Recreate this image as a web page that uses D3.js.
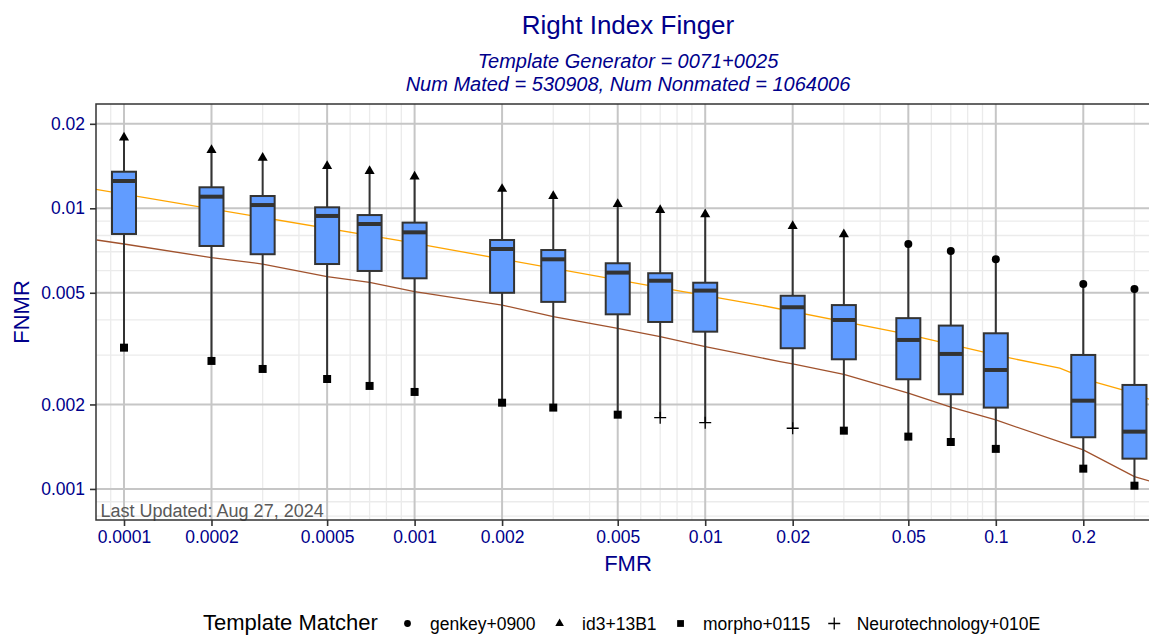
<!DOCTYPE html>
<html>
<head>
<meta charset="utf-8">
<script src="https://cdn.jsdelivr.net/npm/d3@7"></script>
<style>
body { margin: 0; background: #fff; }
svg { display: block; font-family: "Liberation Sans", Arial, sans-serif; }
</style>
</head>
<body>
<div id="chart"></div>
<script>
var w = 1149,
    h = 635,
    pLeft = 96,
    pRight = 1160,
    pTop = 104,
    pBottom = 520;

// box positions (FMR) and FNMR summaries
var fmr = [0.0001, 0.0002, 0.0003, 0.0005, 0.0007, 0.001, 0.002, 0.003, 0.005,
           0.007, 0.01, 0.02, 0.03, 0.05, 0.07, 0.1, 0.2, 0.3];
var fnmrMax = [0.01785, 0.01613, 0.01514, 0.01415, 0.01358, 0.01296, 0.01172, 0.01106, 0.01036,
               0.00986, 0.00952, 0.00865, 0.00808, 0.00746, 0.00705, 0.00658, 0.00537, 0.00516];
var fnmrQ3 = [0.0135, 0.01188, 0.01106, 0.01008, 0.00946, 0.00889, 0.00771, 0.0071, 0.00637,
              0.00587, 0.00543, 0.00488, 0.00452, 0.00406, 0.00382, 0.003586, 0.003002, 0.002347];
var fnmrMedian = [0.01251, 0.011, 0.01027, 0.00939, 0.00879, 0.00821, 0.00716, 0.00658, 0.0059,
                  0.00552, 0.00509, 0.00444, 0.004, 0.003395, 0.003027, 0.002654, 0.002063, 0.0016];
var fnmrQ1 = [0.0081, 0.00734, 0.00686, 0.00633, 0.00598, 0.00563, 0.005, 0.00464, 0.00419,
              0.003935, 0.003634, 0.003172, 0.002897, 0.002459, 0.002175, 0.001949, 0.001528, 0.001282];
var fnmrMin = [0.003187, 0.002858, 0.002676, 0.002465, 0.002328, 0.002216, 0.002029, 0.001949, 0.001839,
               0.001795, 0.001722, 0.001645, 0.001613, 0.001536, 0.00147, 0.001389, 0.001181, 0.001027];
var maxMatcher = ["id3+13B1", "id3+13B1", "id3+13B1", "id3+13B1", "id3+13B1", "id3+13B1", "id3+13B1",
                  "id3+13B1", "id3+13B1", "id3+13B1", "id3+13B1", "id3+13B1", "id3+13B1",
                  "genkey+0900", "genkey+0900", "genkey+0900", "genkey+0900", "genkey+0900"];
var minMatcher = ["morpho+0115", "morpho+0115", "morpho+0115", "morpho+0115", "morpho+0115",
                  "morpho+0115", "morpho+0115", "morpho+0115", "morpho+0115",
                  "Neurotechnology+010E", "Neurotechnology+010E", "Neurotechnology+010E",
                  "morpho+0115", "morpho+0115", "morpho+0115", "morpho+0115", "morpho+0115", "morpho+0115"];

// reference curves
var orangeFmr = [8.0e-5, 0.00089, 0.00776, 0.0154, 0.048, 0.1034, 0.166, 0.2165, 0.273, 0.367];
var orangeFnmr = [0.01169, 0.00767, 0.00512, 0.00452, 0.003586, 0.002977, 0.002692, 0.002411, 0.002253, 0.002025];
var brownFmr = [8.06e-5, 0.0001, 0.0002, 0.0003, 0.0005, 0.0007, 0.001, 0.002, 0.003, 0.005, 0.007,
                0.01, 0.0181, 0.02, 0.03, 0.05, 0.07, 0.1, 0.2, 0.3, 0.367];
var brownFnmr = [0.00771, 0.00746, 0.00667, 0.00633, 0.00571, 0.00545, 0.00505, 0.00452, 0.00411, 0.003736,
                 0.003487, 0.003213, 0.002842, 0.002788, 0.002562, 0.002193, 0.001955, 0.001761,
                 0.001377, 0.001106, 0.001041];

var xTicks = [0.0001, 0.0002, 0.0005, 0.001, 0.002, 0.005, 0.01, 0.02, 0.05, 0.1, 0.2],
    yTicks = [0.001, 0.002, 0.005, 0.01, 0.02],
    minorMult = [3, 4, 6, 7, 8, 9];

var matchers = ["genkey+0900", "id3+13B1", "morpho+0115", "Neurotechnology+010E"],
    shapes = ["circle", "triangle", "square", "plus"];

var txtColor = "#00008B";

var x = d3.scaleLog().domain([8.01e-5, 0.3673]).range([pLeft, pRight]),
    y = d3.scaleLog().domain([0.000775, 0.02353]).range([pBottom, pTop]);

function minorBreaks(sc) {
    var d = sc.domain(), out = [];
    for (var k = -6; k <= 0; k++) {
        minorMult.forEach(function (m) {
            var v = m * Math.pow(10, k);
            if (v >= d[0] && v <= d[1]) out.push(v);
        });
    }
    return out;
}

function markerPath(shape, scale) {
    if (shape === "plus") {
        var s = 6 * scale;
        return "M" + (-s) + ",0H" + s + "M0," + (-s) + "V" + s;
    }
    var t = {circle: [d3.symbolCircle, 50], triangle: [d3.symbolTriangle, 44], square: [d3.symbolSquare, 64]}[shape];
    return d3.symbol().type(t[0]).size(t[1] * scale * scale)();
}

function shapeOf(name) { return shapes[matchers.indexOf(name)]; }

var svg = d3.select("#chart")
    .append("svg")
    .attr("width", w)
    .attr("height", h);

svg.append("rect").attr("width", w).attr("height", h).attr("fill", "#fff");

svg.append("clipPath").attr("id", "panel")
    .append("rect")
    .attr("x", pLeft).attr("y", pTop)
    .attr("width", pRight - pLeft).attr("height", pBottom - pTop);

var grid = svg.append("g");

// minor grid
grid.selectAll(".xminor").data(minorBreaks(x)).enter().append("line")
    .attr("x1", function (d) { return x(d); }).attr("x2", function (d) { return x(d); })
    .attr("y1", pTop).attr("y2", pBottom)
    .attr("stroke", "#EBEBEB").attr("stroke-width", 1.3);
grid.selectAll(".yminor").data(minorBreaks(y)).enter().append("line")
    .attr("y1", function (d) { return y(d); }).attr("y2", function (d) { return y(d); })
    .attr("x1", pLeft).attr("x2", pRight)
    .attr("stroke", "#EBEBEB").attr("stroke-width", 1.3);

// major grid
grid.selectAll(".xmajor").data(xTicks).enter().append("line")
    .attr("x1", function (d) { return x(d); }).attr("x2", function (d) { return x(d); })
    .attr("y1", pTop).attr("y2", pBottom)
    .attr("stroke", "#C6C6C6").attr("stroke-width", 2);
grid.selectAll(".ymajor").data(yTicks).enter().append("line")
    .attr("y1", function (d) { return y(d); }).attr("y2", function (d) { return y(d); })
    .attr("x1", pLeft).attr("x2", pRight)
    .attr("stroke", "#C6C6C6").attr("stroke-width", 2);

// reference curves
var line = d3.line()
    .x(function (d) { return x(d[0]); })
    .y(function (d) { return y(d[1]); });

svg.append("path")
    .datum(d3.zip(orangeFmr, orangeFnmr))
    .attr("clip-path", "url(#panel)")
    .attr("d", line)
    .attr("fill", "none")
    .attr("stroke", "#FFA500")
    .attr("stroke-width", 1.3);

svg.append("path")
    .datum(d3.zip(brownFmr, brownFnmr))
    .attr("clip-path", "url(#panel)")
    .attr("d", line)
    .attr("fill", "none")
    .attr("stroke", "#A0522D")
    .attr("stroke-width", 1.3);

// boxplots
var boxW = 24;
var boxes = svg.append("g").selectAll("g")
    .data(fmr.map(function (f, i) { return i; }))
    .enter().append("g");

boxes.append("line")
    .attr("x1", function (i) { return x(fmr[i]); })
    .attr("x2", function (i) { return x(fmr[i]); })
    .attr("y1", function (i) { return y(fnmrMax[i]); })
    .attr("y2", function (i) { return y(fnmrMin[i]); })
    .attr("stroke", "#333").attr("stroke-width", 2);

boxes.append("rect")
    .attr("x", function (i) { return x(fmr[i]) - boxW / 2; })
    .attr("y", function (i) { return y(fnmrQ3[i]); })
    .attr("width", boxW)
    .attr("height", function (i) { return y(fnmrQ1[i]) - y(fnmrQ3[i]); })
    .attr("fill", "#619CFF")
    .attr("stroke", "#333").attr("stroke-width", 2);

boxes.append("line")
    .attr("x1", function (i) { return x(fmr[i]) - boxW / 2; })
    .attr("x2", function (i) { return x(fmr[i]) + boxW / 2; })
    .attr("y1", function (i) { return y(fnmrMedian[i]); })
    .attr("y2", function (i) { return y(fnmrMedian[i]); })
    .attr("stroke", "#333").attr("stroke-width", 4);

function addMarkers(vals, who) {
    boxes.append("path")
        .attr("transform", function (i) { return "translate(" + x(fmr[i]) + "," + y(vals[i]) + ")"; })
        .attr("d", function (i) { return markerPath(shapeOf(who[i]), 1); })
        .attr("fill", function (i) { return shapeOf(who[i]) === "plus" ? "none" : "#000"; })
        .attr("stroke", function (i) { return shapeOf(who[i]) === "plus" ? "#000" : "none"; })
        .attr("stroke-width", 1.3);
}
addMarkers(fnmrMax, maxMatcher);
addMarkers(fnmrMin, minMatcher);

svg.append("text")
    .attr("x", 100.5).attr("y", 517)
    .attr("fill", "#595959")
    .style("font-size", "18px")
    .text("Last Updated: Aug 27, 2024");

// panel border
svg.append("rect")
    .attr("x", pLeft).attr("y", pTop)
    .attr("width", pRight - pLeft).attr("height", pBottom - pTop)
    .attr("fill", "none").attr("stroke", "#333").attr("stroke-width", 1.5);

// axes
var xAxis = d3.axisBottom(x).tickValues(xTicks).tickSize(6).tickFormat(d3.format("~g"));
var yAxis = d3.axisLeft(y).tickValues(yTicks).tickSize(6).tickPadding(5).tickFormat(d3.format("~g"));

var gx = svg.append("g").attr("transform", "translate(0," + pBottom + ")").call(xAxis);
gx.select(".domain").remove();
gx.selectAll(".tick line").attr("stroke", "#333").attr("stroke-width", 1.6);
gx.selectAll(".tick text")
    .attr("y", 23).attr("dy", null)
    .attr("fill", txtColor)
    .style("font-size", "17.5px")
    .style("font-family", "Liberation Sans, Arial, sans-serif");

var gy = svg.append("g").attr("transform", "translate(" + pLeft + ",0)").call(yAxis);
gy.select(".domain").remove();
gy.selectAll(".tick line").attr("stroke", "#333").attr("stroke-width", 1.6);
gy.selectAll(".tick text")
    .attr("fill", txtColor)
    .style("font-size", "17.5px")
    .style("font-family", "Liberation Sans, Arial, sans-serif");

// titles
var cx = (pLeft + pRight) / 2;
svg.append("text").attr("x", cx).attr("y", 34).attr("text-anchor", "middle")
    .attr("fill", txtColor).style("font-size", "26px")
    .text("Right Index Finger");
svg.append("text").attr("x", cx).attr("y", 68).attr("text-anchor", "middle")
    .attr("fill", txtColor).style("font-size", "20px").style("font-style", "italic")
    .text("Template Generator = 0071+0025");
svg.append("text").attr("x", cx).attr("y", 91).attr("text-anchor", "middle")
    .attr("fill", txtColor).style("font-size", "20px").style("font-style", "italic")
    .text("Num Mated = 530908, Num Nonmated = 1064006");

svg.append("text").attr("x", cx).attr("y", 571).attr("text-anchor", "middle")
    .attr("fill", txtColor).style("font-size", "22px")
    .text("FMR");
svg.append("text")
    .attr("transform", "translate(28.5," + (pTop + pBottom) / 2 + ") rotate(-90)")
    .attr("text-anchor", "middle")
    .attr("fill", txtColor).style("font-size", "22px")
    .text("FNMR");

// legend
var leg = svg.append("g");
leg.append("text").attr("x", 203).attr("y", 630)
    .attr("fill", "#000").style("font-size", "22px")
    .text("Template Matcher");

var lx = 407.5;
matchers.forEach(function (m, i) {
    leg.append("path")
        .attr("transform", "translate(" + lx + ",623.5)")
        .attr("d", markerPath(shapes[i], shapes[i] === "plus" ? 1 : 0.85))
        .attr("fill", shapes[i] === "plus" ? "none" : "#000")
        .attr("stroke", shapes[i] === "plus" ? "#000" : "none")
        .attr("stroke-width", 1.3);
    var t = leg.append("text").attr("x", lx + 22.5).attr("y", 630)
        .attr("fill", "#000").style("font-size", "17.5px")
        .text(m);
    lx = lx + 22.5 + t.node().getComputedTextLength() + 24;
});
</script>
</body>
</html>
